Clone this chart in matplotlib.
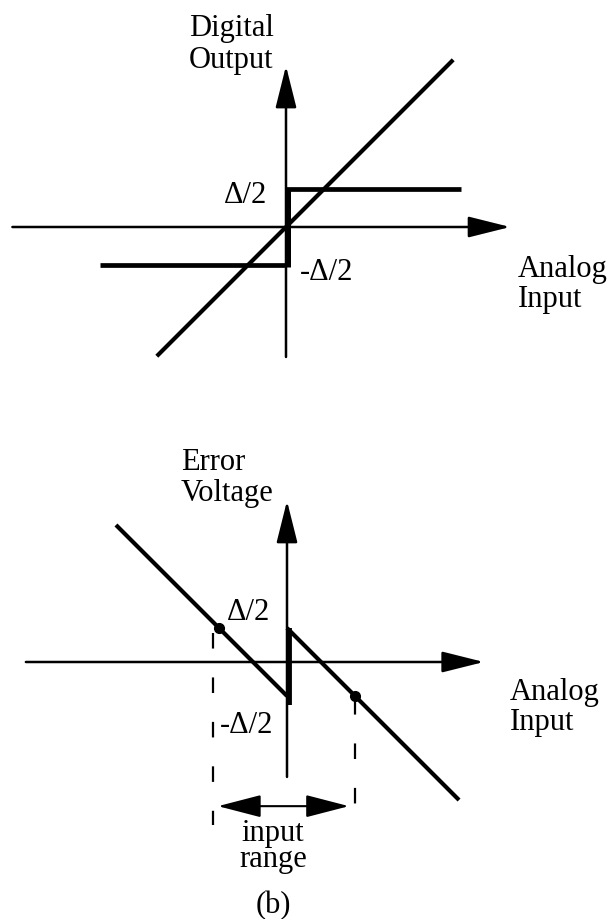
import matplotlib
matplotlib.use('Agg')
import matplotlib.pyplot as plt

plt.rcParams['font.family'] = ['Liberation Serif', 'DejaVu Serif']

W, H = 615, 920

# quantizer half step (delta/2) is one unit on both plots
half_step = 1.0

# (a) transfer characteristic
top_xaxis = [-7.2, 5.9]
top_yaxis = [-3.42, 4.24]
ramp_x = [-3.4, 4.4]
ramp_y = [-3.4, 4.4]
neg_level_x = [-4.9, 0.0]
pos_level_x = [0.0, 4.6]
jump_y = [-1.05, 1.0]

# (b) quantization error
bot_xaxis = [-7.68, 5.79]
bot_yaxis = [-3.38, 4.74]
err_left_x = [-5.03, 0.0]
err_left_y = [4.03, -1.0]
err_right_x = [0.0, 5.06]
err_right_y = [1.0, -4.06]
err_jump_y = [-1.25, 1.0]
range_x = [-2.0, 2.0]
range_y = [1.0, -1.0]
guide_x = [-2.18, 2.0]
guide_y = [[0.85, -4.8], [-1.1, -4.5]]
span_x = [-2.03, 1.82]
span_y = -4.24

FS = 22


def frame(fig, top, bottom, ox, oy, unit):
    # axes covering pixel rows top..bottom, origin (ox, oy) in pixels
    ax = fig.add_axes([0, 1 - bottom / H, 1, (bottom - top) / H])
    ax.set_xlim(-ox / unit, (W - ox) / unit)
    ax.set_ylim(-(bottom - oy) / unit, (oy - top) / unit)
    ax.axis('off')
    return ax


def arrow(ax, start, end, style='-|>', hl=26, hw=6.5, lw=1.8):
    ax.annotate('', xy=end, xytext=start,
                arrowprops=dict(arrowstyle=f'{style},head_length={hl},head_width={hw}',
                                mutation_scale=1, lw=lw, color='black',
                                shrinkA=0, shrinkB=0))


fig = plt.figure(figsize=(W / 100, H / 100), dpi=100)

# ---- top: digital output vs analog input
ax = frame(fig, 0, 420, 286, 228, 38)
arrow(ax, (top_xaxis[0], 0), (top_xaxis[1], 0))
arrow(ax, (0, top_yaxis[0]), (0, top_yaxis[1]))
ax.plot(ramp_x, ramp_y, color='black', lw=3.0, solid_capstyle='butt')
ax.plot(neg_level_x, [-half_step] * 2, color='black', lw=3.4, solid_capstyle='butt')
ax.plot(pos_level_x, [half_step] * 2, color='black', lw=3.4, solid_capstyle='butt')
ax.plot([0.05, 0.05], jump_y, color='black', lw=3.6, solid_capstyle='butt')

ax.text(-2.55, 5.05, 'Digital', fontsize=FS, ha='left', va='baseline')
ax.text(-2.55, 4.2, 'Output', fontsize=FS, ha='left', va='baseline')
ax.text(-0.5, 0.66, 'Δ/2', fontsize=FS, ha='right', va='baseline')
ax.text(0.37, -1.37, '-Δ/2', fontsize=FS, ha='left', va='baseline')
ax.text(6.1, -1.29, 'Analog', fontsize=FS, ha='left', va='baseline')
ax.text(6.1, -2.08, 'Input', fontsize=FS, ha='left', va='baseline')

# ---- bottom: error voltage vs analog input
bx = frame(fig, 420, 920, 287, 663, 34)
arrow(bx, (bot_xaxis[0], 0), (bot_xaxis[1], 0))
arrow(bx, (0, bot_yaxis[0]), (0, bot_yaxis[1]))
bx.plot(err_left_x, err_left_y, color='black', lw=3.0, solid_capstyle='butt')
bx.plot(err_right_x, err_right_y, color='black', lw=3.0, solid_capstyle='butt')
bx.plot([0.05, 0.05], err_jump_y, color='black', lw=4.2, solid_capstyle='butt')
bx.plot(range_x, range_y, 'o', color='black', ms=7)
for gx, gy in zip(guide_x, guide_y):
    bx.plot([gx, gx], gy, color='black', lw=1.6, linestyle=(0, (7, 13)))
arrow(bx, (span_x[0], span_y), (span_x[1], span_y), style='<|-|>', hl=27, hw=7, lw=1.5)

bx.text(-3.12, 5.68, 'Error', fontsize=FS, ha='left', va='baseline')
bx.text(-3.12, 4.76, 'Voltage', fontsize=FS, ha='left', va='baseline')
bx.text(-0.5, 1.26, 'Δ/2', fontsize=FS, ha='right', va='baseline')
bx.text(-0.41, -2.06, '-Δ/2', fontsize=FS, ha='right', va='baseline')
bx.text(6.56, -1.09, 'Analog', fontsize=FS, ha='left', va='baseline')
bx.text(6.56, -1.97, 'Input', fontsize=FS, ha='left', va='baseline')
# multi-line baseline sits on the last line ("range")
bx.text(-0.41, -6.0, 'input\nrange', fontsize=FS, ha='center', va='baseline',
        multialignment='center', linespacing=0.87)
bx.text(-0.41, -7.35, '(b)', fontsize=FS, ha='center', va='baseline')

fig.savefig('out.png', dpi=100, facecolor='white')
